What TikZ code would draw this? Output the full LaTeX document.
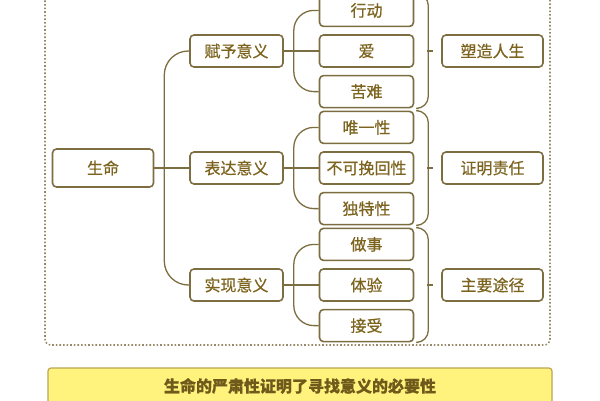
\documentclass[tikz,border=0pt]{standalone}
\usepackage{fontspec}
\newfontfamily\cjk[FakeBold=0.6]{Noto Sans CJK SC}
\usetikzlibrary{positioning,calc}
\definecolor{linebrown}{RGB}{125,110,65}
\definecolor{textbrown}{RGB}{125,100,30}
\definecolor{noteyellow}{RGB}{255,243,125}
\definecolor{noteedge}{RGB}{190,165,80}

\begin{document}
\begin{tikzpicture}[
  x=1pt, y=-1pt,
  node distance=7pt,
  box/.style={draw=linebrown, line width=1.6pt, rounded corners=4pt, fill=white, minimum height=32pt, minimum width=94pt, inner sep=0pt, text=textbrown, font=\cjk\fontsize{16}{16}\selectfont},
  conn/.style={draw=linebrown, line width=1.3pt}
]
  \useasboundingbox[fill=white] (0,0) rectangle (600,400);
  \clip (0,0) rectangle (600,400);
  % outer frame
  \draw[linebrown!80, line width=1.6pt, dotted, rounded corners=6pt] (45,-20) rectangle (550,345);

  \node[box, minimum width=101pt, minimum height=38pt] (life) at (103,168) {生命};
  \node[box, minimum width=93pt] (give) at (236.5,51) {赋予意义};
  \node[box, minimum width=93pt] (express) at (236.5,168) {表达意义};
  \node[box, minimum width=93pt] (realize) at (236.5,285) {实现意义};

  \node[box] (love) at (366.5,51) {爱};
  \node[box, above=of love] (act) {行动};
  \node[box, below=of love] (hard) {苦难};
  \node[box] (irrev) at (366.5,168) {不可挽回性};
  \node[box, above=of irrev] (uniq) {唯一性};
  \node[box, below=of irrev] (spec) {独特性};
  \node[box] (exper) at (366.5,285) {体验};
  \node[box, above=of exper] (doing) {做事};
  \node[box, below=of exper] (accept) {接受};

  \node[box, minimum width=101pt] (shape) at (492.5,51) {塑造人生};
  \node[box, minimum width=101pt] (duty) at (492.5,168) {证明责任};
  \node[box, minimum width=101pt] (route) at (492.5,285) {主要途径};

  % first level
  \coordinate (hub) at ($(life.east)+(10,0)$);
  \draw[conn] (life.east) -- (express.west);
  \draw[conn, rounded corners=24pt] (give.west) -| (hub) |- (realize.west);

  % second level, braces
  \foreach \first/\cen/\last/\src/\dst in {act/love/hard/give/shape, uniq/irrev/spec/express/duty, doing/exper/accept/realize/route} {
    \draw[conn] (\src.east) -- (\cen.west);
    \draw[conn, rounded corners=20pt] (\first.west) -| ($(\src.east)+(10,0)$) |- (\last.west);
    \draw[conn, rounded corners=12pt] ($(\first.north east)+(4,0)$) -| ($(\last.south east)+(14,0)$) -- ($(\last.south east)+(4,0)$);
    \draw[conn] ($(\dst.west)+(-14,0)$) -- ++(6,0);
  }

  % conclusion
  \node[fill=noteyellow, draw=noteedge, line width=1.2pt, rounded corners=3pt, minimum width=504pt, minimum height=36pt, text=textbrown!90!black, font=\cjk\bfseries\fontsize{16}{16}\selectfont] (note) at (300,386) {生命的严肃性证明了寻找意义的必要性};
\end{tikzpicture}
\end{document}
